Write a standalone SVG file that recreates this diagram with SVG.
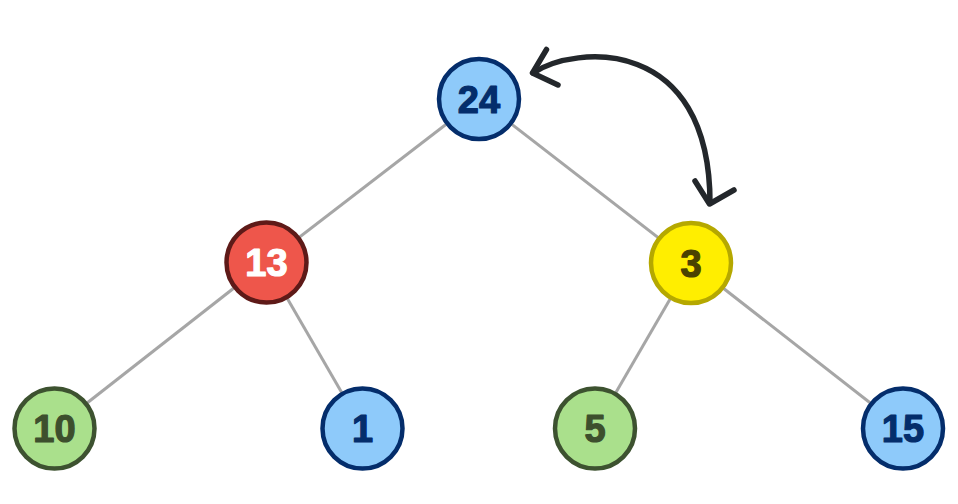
<svg xmlns="http://www.w3.org/2000/svg" width="958" height="504" viewBox="0 0 958 504">
<style>
.edge{stroke:#a6a6a6;stroke-width:3;fill:none}
.swap{stroke:#23272b;stroke-width:5.5;fill:none;stroke-linecap:round;stroke-linejoin:round}
circle{stroke-width:4.5}
text{font-family:"Liberation Sans",Arial,sans-serif;font-weight:bold;font-size:38px;text-anchor:middle;stroke-width:1.2;stroke-linejoin:round}
.blue circle{fill:#8ecafa;stroke:#042d6b}
.blue text{fill:#042d6b;stroke:#042d6b}
.red circle{fill:#ee564b;stroke:#5e1a18}
.red text{fill:#ffffff;stroke:#ffffff}
.yellow circle{fill:#ffee00;stroke:#b5a800}
.yellow text{fill:#4a4200;stroke:#4a4200}
.green circle{fill:#aae08c;stroke:#3d5230}
.green text{fill:#3d4f2d;stroke:#3d4f2d}
</style>
<rect width="958" height="504" fill="#ffffff"/>
<g id="connectors">
<line class="edge" x1="479" y1="99" x2="266.5" y2="262.5"/>
<line class="edge" x1="479" y1="99" x2="691" y2="263"/>
<line class="edge" x1="266.5" y1="262.5" x2="54.5" y2="428.5"/>
<line class="edge" x1="266.5" y1="262.5" x2="362.5" y2="428.5"/>
<line class="edge" x1="691" y1="263" x2="595" y2="428.5"/>
<line class="edge" x1="691" y1="263" x2="903" y2="428.5"/>
<path class="swap" d="M533,73 C575,45 710,35 710,203"/>
<path class="swap" d="M546.5,49.5 L532.5,73 L558,85"/>
<path class="swap" d="M695,181 L709.5,204 L734,190"/>
</g>
<g id="node-24" class="blue"><circle cx="479" cy="99" r="40"/><text x="479" y="113">24</text></g>
<g id="node-13" class="red"><circle cx="266.5" cy="262.5" r="40"/><text x="266.5" y="276">13</text></g>
<g id="node-3" class="yellow"><circle cx="691" cy="263" r="40"/><text x="691" y="276.5">3</text></g>
<g id="node-10" class="green"><circle cx="54.5" cy="428.5" r="40"/><text x="54.5" y="442">10</text></g>
<g id="node-1" class="blue"><circle cx="362.5" cy="428.5" r="40"/><text x="362.5" y="442">1</text></g>
<g id="node-5" class="green"><circle cx="595" cy="428.5" r="40"/><text x="595" y="442">5</text></g>
<g id="node-15" class="blue"><circle cx="903" cy="428.5" r="40"/><text x="903" y="442">15</text></g>
</svg>
